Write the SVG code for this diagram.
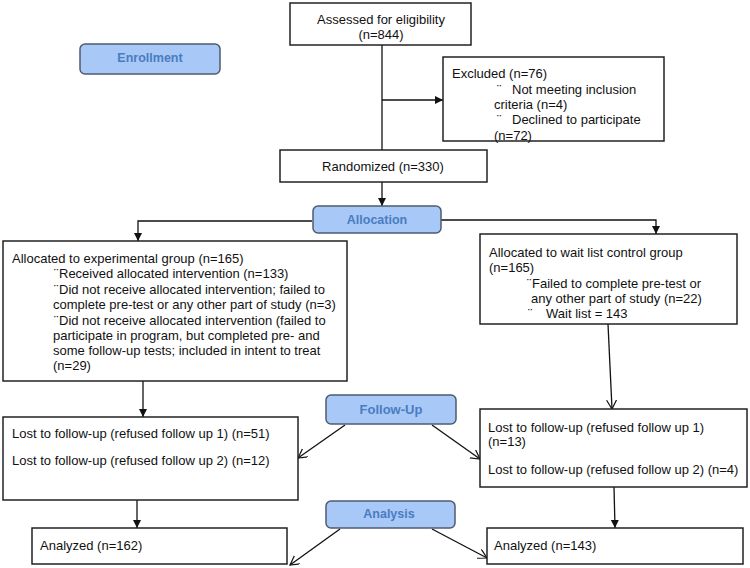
<svg xmlns="http://www.w3.org/2000/svg" width="750" height="568" viewBox="0 0 750 568">
<style>
  .box { fill: #ffffff; stroke: #222222; stroke-width: 1.5; }
  .lbl { fill: #a8c8f8; stroke: #4e5b6e; stroke-width: 1.5; }
  .t { font-family: "Liberation Sans", Arial, sans-serif; font-size: 13px; fill: #111111; }
  .lt { font-family: "Liberation Sans", Arial, sans-serif; font-size: 12.5px; font-weight: bold; fill: #4a7cc0; text-anchor: middle; }
  .c { fill: none; stroke: #111111; stroke-width: 1.3; }
  .mid { text-anchor: middle; }
</style>
<defs>
  <marker id="af" markerUnits="userSpaceOnUse" markerWidth="9" markerHeight="9" refX="8" refY="4" orient="auto">
    <path d="M0,0 L8,4 L0,8 z" fill="#111111"/>
  </marker>
  <marker id="ao" markerUnits="userSpaceOnUse" markerWidth="12" markerHeight="12" refX="9" refY="5" orient="auto">
    <path d="M0,0 L9,5 L0,10" fill="none" stroke="#111111" stroke-width="1.2"/>
  </marker>
</defs>
<rect width="750" height="568" fill="#ffffff"/>

<g id="connectors">
  <line class="c" x1="382" y1="45" x2="382" y2="150"/>
  <line class="c" x1="382" y1="100" x2="443" y2="100" marker-end="url(#af)"/>
  <line class="c" x1="382" y1="182" x2="382" y2="206" marker-end="url(#af)"/>
  <polyline class="c" points="312,221 138,221 138,241" marker-end="url(#af)"/>
  <polyline class="c" points="441,220 656,220 656,234" marker-end="url(#af)"/>
  <line class="c" x1="143" y1="381" x2="143" y2="417" marker-end="url(#af)"/>
  <line class="c" x1="608" y1="324" x2="612" y2="409" marker-end="url(#ao)"/>
  <line class="c" x1="345" y1="425" x2="298" y2="458" marker-end="url(#ao)"/>
  <line class="c" x1="432" y1="425" x2="480" y2="459" marker-end="url(#ao)"/>
  <line class="c" x1="137" y1="500" x2="137" y2="528" marker-end="url(#af)"/>
  <line class="c" x1="614" y1="487" x2="615" y2="528" marker-end="url(#af)"/>
  <line class="c" x1="340" y1="529" x2="290" y2="565" marker-end="url(#ao)"/>
  <line class="c" x1="432" y1="529" x2="487" y2="558" marker-end="url(#ao)"/>
</g>

<g id="enrollment">
  <rect class="lbl" x="80" y="44" width="140" height="30" rx="5"/>
  <text class="lt" x="150" y="62">Enrollment</text>
</g>

<g id="assessed">
  <rect class="box" x="290" y="3" width="181" height="42"/>
  <text class="t mid" x="381" y="24">Assessed  for eligibility</text>
  <text class="t mid" x="381" y="39">(n=844)</text>
</g>

<g id="excluded">
  <rect class="box" x="443" y="57" width="221" height="84"/>
  <text class="t" x="452" y="78">Excluded (n=76)</text>
  <text class="t" x="497" y="94">¨</text>
  <text class="t" x="512" y="94">Not meeting inclusion</text>
  <text class="t" x="494" y="109">criteria (n=4)</text>
  <text class="t" x="497" y="124">¨</text>
  <text class="t" x="512" y="124">Declined to participate</text>
  <text class="t" x="494" y="140">(n=72)</text>
</g>

<g id="randomized">
  <rect class="box" x="280" y="150" width="207" height="32"/>
  <text class="t mid" x="383" y="171">Randomized (n=330)</text>
</g>

<g id="allocation">
  <rect class="lbl" x="313" y="206" width="128" height="27" rx="5"/>
  <text class="lt" x="377" y="224">Allocation</text>
</g>

<g id="experimental">
  <rect class="box" x="3" y="241" width="344" height="140"/>
  <text class="t" x="12" y="263">Allocated to experimental group (n=165)</text>
  <text class="t" x="54" y="278">¨</text>
  <text class="t" x="59" y="278">Received allocated intervention (n=133)</text>
  <text class="t" x="54" y="294">¨</text>
  <text class="t" x="59" y="294">Did not receive allocated intervention;  failed to</text>
  <text class="t" x="53" y="309">complete pre-test or any other part of study (n=3)</text>
  <text class="t" x="54" y="325">¨</text>
  <text class="t" x="59" y="325">Did not receive allocated intervention (failed to</text>
  <text class="t" x="53" y="340">participate in program, but completed pre- and</text>
  <text class="t" x="53" y="355">some follow-up tests; included in intent to treat</text>
  <text class="t" x="53" y="370">(n=29)</text>
</g>

<g id="control">
  <rect class="box" x="480" y="234" width="257" height="90"/>
  <text class="t" x="489" y="257">Allocated to wait list control group</text>
  <text class="t" x="489" y="272">(n=165)</text>
  <text class="t" x="527" y="288">¨</text>
  <text class="t" x="532" y="288">Failed to complete pre-test or</text>
  <text class="t" x="531" y="303">any other part of study (n=22)</text>
  <text class="t" x="528" y="318">¨</text>
  <text class="t" x="546" y="318">Wait list = 143</text>
</g>

<g id="followup">
  <rect class="lbl" x="326" y="395" width="130" height="29" rx="5"/>
  <text class="lt" x="391" y="414" style="font-size:13px">Follow-Up</text>
</g>

<g id="lost-left">
  <rect class="box" x="3" y="417" width="295" height="83"/>
  <text class="t" x="12" y="438">Lost to follow-up (refused follow up 1) (n=51)</text>
  <text class="t" x="12" y="465">Lost to follow-up (refused follow up 2) (n=12)</text>
</g>

<g id="lost-right">
  <rect class="box" x="480" y="409" width="267" height="78"/>
  <text class="t" x="488" y="432">Lost to follow-up (refused follow up 1)</text>
  <text class="t" x="488" y="446">(n=13)</text>
  <text class="t" x="488" y="474">Lost to follow-up (refused follow up 2) (n=4)</text>
</g>

<g id="analysis">
  <rect class="lbl" x="326" y="501" width="129" height="27" rx="5"/>
  <text class="lt" x="389" y="518">Analysis</text>
</g>

<g id="analyzed-left">
  <rect class="box" x="32" y="528" width="255" height="36"/>
  <text class="t" x="40" y="550">Analyzed (n=162)</text>
</g>

<g id="analyzed-right">
  <rect class="box" x="487" y="528" width="256" height="36"/>
  <text class="t" x="494" y="550">Analyzed (n=143)</text>
</g>
</svg>
